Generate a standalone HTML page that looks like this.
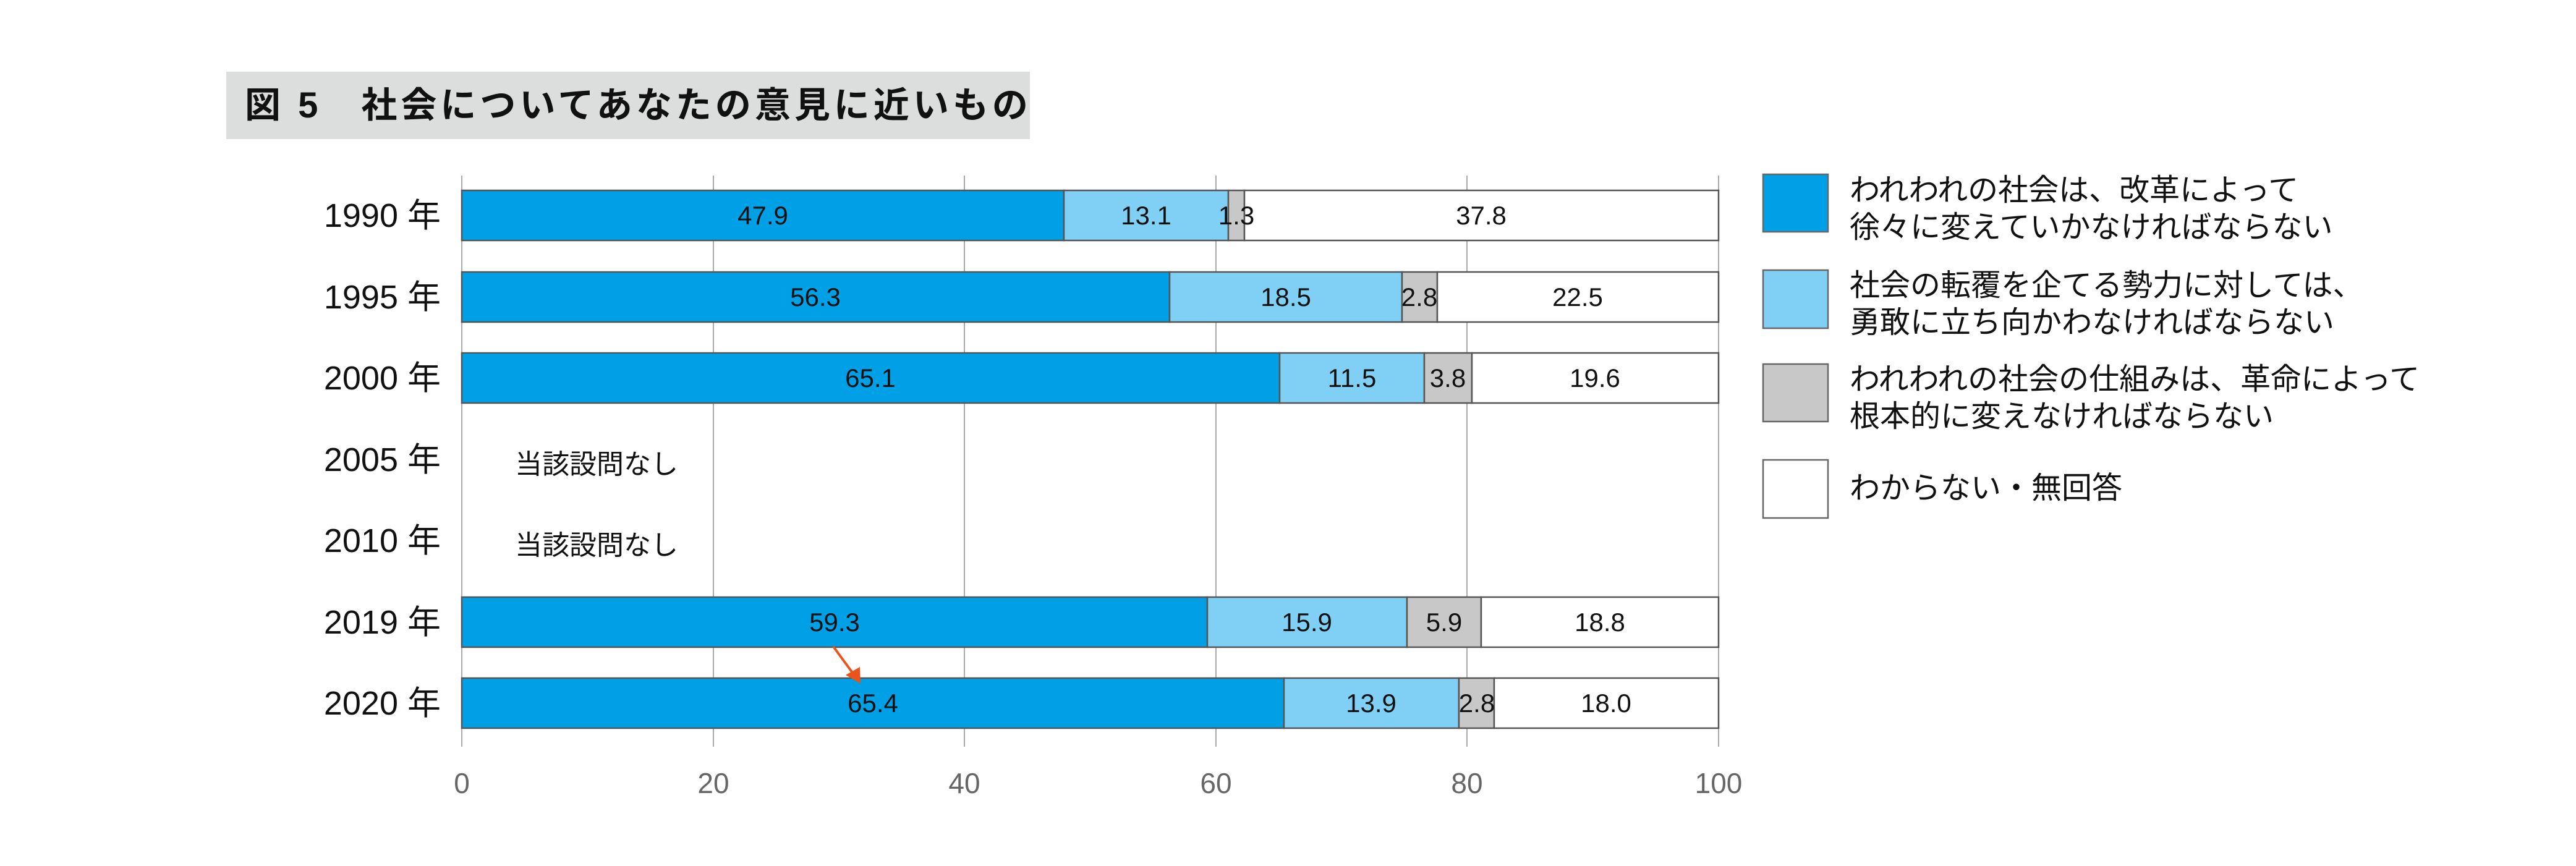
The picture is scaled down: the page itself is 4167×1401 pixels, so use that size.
<!DOCTYPE html>
<html><head><meta charset="utf-8"><style>
html,body{margin:0;padding:0;background:#fff;}
svg{display:block;}
text{font-family:"Liberation Sans","Noto Sans CJK JP",sans-serif;}
</style></head><body>
<svg width="4167" height="1401" viewBox="0 0 4167 1401" xmlns="http://www.w3.org/2000/svg">
<rect x="366" y="116" width="1300" height="109" fill="#dcdddd"/>
<text x="396" y="190" font-size="58" font-weight="bold" fill="#111" letter-spacing="6">図 5　社会についてあなたの意見に近いもの</text>
<g stroke="#aaa" stroke-width="2">
<line x1="747" y1="284" x2="747" y2="1208"/><line x1="1154" y1="284" x2="1154" y2="1208"/>
<line x1="1560" y1="284" x2="1560" y2="1208"/><line x1="1967" y1="284" x2="1967" y2="1208"/>
<line x1="2373" y1="284" x2="2373" y2="1208"/><line x1="2780" y1="284" x2="2780" y2="1208"/>
</g>
<g font-size="46" fill="#666" text-anchor="middle">
<text x="747" y="1283">0</text><text x="1154" y="1283">20</text><text x="1560" y="1283">40</text>
<text x="1967" y="1283">60</text><text x="2373" y="1283">80</text><text x="2780" y="1283">100</text>
</g>
<g font-size="54" fill="#111" text-anchor="end">
<text x="713" y="367">1990 年</text><text x="713" y="499">1995 年</text><text x="713" y="630">2000 年</text>
<text x="713" y="762">2005 年</text><text x="713" y="893">2010 年</text><text x="713" y="1025">2019 年</text><text x="713" y="1156">2020 年</text>
</g>
<g font-size="44" fill="#111">
<text x="833" y="766">当該設問なし</text><text x="833" y="897">当該設問なし</text>
</g>
<g stroke="#555" stroke-width="2.5">
<rect x="747" y="308" width="974" height="81" fill="#00a0e6"/>
<rect x="1721" y="308" width="266" height="81" fill="#80cff5"/>
<rect x="1987" y="308" width="26" height="81" fill="#c8c8c8"/>
<rect x="2013" y="308" width="767" height="81" fill="#fff"/>
<rect x="747" y="440" width="1145" height="81" fill="#00a0e6"/>
<rect x="1892" y="440" width="376" height="81" fill="#80cff5"/>
<rect x="2268" y="440" width="57" height="81" fill="#c8c8c8"/>
<rect x="2325" y="440" width="455" height="81" fill="#fff"/>
<rect x="747" y="571" width="1323" height="81" fill="#00a0e6"/>
<rect x="2070" y="571" width="234" height="81" fill="#80cff5"/>
<rect x="2304" y="571" width="77" height="81" fill="#c8c8c8"/>
<rect x="2381" y="571" width="399" height="81" fill="#fff"/>
<rect x="747" y="966" width="1206" height="81" fill="#00a0e6"/>
<rect x="1953" y="966" width="323" height="81" fill="#80cff5"/>
<rect x="2276" y="966" width="120" height="81" fill="#c8c8c8"/>
<rect x="2396" y="966" width="384" height="81" fill="#fff"/>
<rect x="747" y="1097" width="1330" height="81" fill="#00a0e6"/>
<rect x="2077" y="1097" width="283" height="81" fill="#80cff5"/>
<rect x="2360" y="1097" width="57" height="81" fill="#c8c8c8"/>
<rect x="2417" y="1097" width="363" height="81" fill="#fff"/>
</g>
<g font-size="42" fill="#111" text-anchor="middle">
<text x="1234" y="363">47.9</text><text x="1854" y="363">13.1</text><text x="2000" y="363">1.3</text><text x="2396" y="363">37.8</text>
<text x="1319" y="495">56.3</text><text x="2080" y="495">18.5</text><text x="2296" y="495">2.8</text><text x="2552" y="495">22.5</text>
<text x="1408" y="626">65.1</text><text x="2187" y="626">11.5</text><text x="2342" y="626">3.8</text><text x="2580" y="626">19.6</text>
<text x="1350" y="1021">59.3</text><text x="2114" y="1021">15.9</text><text x="2336" y="1021">5.9</text><text x="2588" y="1021">18.8</text>
<text x="1412" y="1152">65.4</text><text x="2218" y="1152">13.9</text><text x="2389" y="1152">2.8</text><text x="2598" y="1152">18.0</text>
</g>
<line x1="1348" y1="1046" x2="1381" y2="1091" stroke="#e8541c" stroke-width="4"/>
<polygon points="1392,1106 1368,1092 1391,1079" fill="#e8541c"/>
<g stroke="#666" stroke-width="2.5">
<rect x="2852" y="282" width="105" height="93" fill="#00a0e6"/>
<rect x="2852" y="437" width="105" height="94" fill="#80cff5"/>
<rect x="2852" y="589" width="105" height="93" fill="#c8c8c8"/>
<rect x="2852" y="744" width="105" height="94" fill="#fff"/>
</g>
<g font-size="49" fill="#111">
<text x="2992" y="324">われわれの社会は、改革によって</text>
<text x="2992" y="384">徐々に変えていかなければならない</text>
<text x="2992" y="478">社会の転覆を企てる勢力に対しては、</text>
<text x="2992" y="538">勇敢に立ち向かわなければならない</text>
<text x="2992" y="630">われわれの社会の仕組みは、革命によって</text>
<text x="2992" y="690">根本的に変えなければならない</text>
<text x="2992" y="806">わからない・無回答</text>
</g>
</svg>
</body></html>
